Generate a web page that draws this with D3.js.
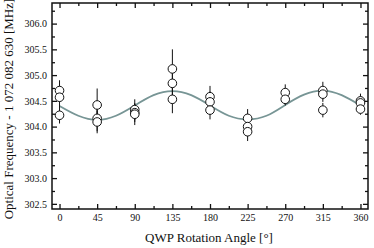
<!DOCTYPE html>
<html>
<head>
<meta charset="utf-8">
<script src="https://cdn.jsdelivr.net/npm/d3@7"></script>
<style>
  body { margin: 0; background: #fff; }
  svg text { font-family: "Liberation Serif", "Times New Roman", serif; fill: #111; }
</style>
</head>
<body>
<div id="chart"></div>
<script>
// measured points: angle, frequency offset, uncertainty
const angles  = [0, 0, 0, 45, 45, 45, 90, 90, 90, 135, 135, 135, 180, 180, 180,
                 225, 225, 225, 270, 270, 315, 315, 315, 360, 360, 360];
const freq    = [304.70, 304.57, 304.22, 304.42, 304.16, 304.09, 304.33, 304.27, 304.24,
                 305.12, 304.84, 304.53, 304.58, 304.48, 304.32, 304.16, 304.00, 303.90,
                 304.66, 304.53, 304.70, 304.63, 304.32, 304.50, 304.46, 304.34];
const freqErr = [0.20, 0.20, 0.16, 0.32, 0.25, 0.22, 0.20, 0.18, 0.21,
                 0.38, 0.30, 0.27, 0.21, 0.20, 0.18, 0.18, 0.17, 0.18,
                 0.16, 0.12, 0.17, 0.15, 0.14, 0.14, 0.12, 0.11];

// fitted curve, every 22.5 deg
const fitAngles = [0, 22.5, 45, 67.5, 90, 112.5, 135, 157.5, 180,
                   202.5, 225, 247.5, 270, 292.5, 315, 337.5, 360];
const fitFreq   = [304.40, 304.21, 304.13, 304.21, 304.41, 304.61, 304.69, 304.61, 304.41,
                   304.21, 304.14, 304.21, 304.42, 304.62, 304.70, 304.61, 304.41];

const xTicks = [0, 45, 90, 135, 180, 225, 270, 315, 360];
const yTicks = [302.5, 303.0, 303.5, 304.0, 304.5, 305.0, 305.5, 306.0];

const margin = { top: 3, right: 6, bottom: 39, left: 52 },
  width = 374 - margin.left - margin.right,
  height = 248 - margin.top - margin.bottom;

const svg = d3.select("#chart")
  .append("svg")
  .attr("width", 374)
  .attr("height", 248);

const g = svg.append("g")
  .attr("transform", `translate(${margin.left}, ${margin.top})`);

const x = d3.scaleLinear().domain([-9, 369]).range([0, width]);
const y = d3.scaleLinear().domain([302.4, 306.4]).range([height, 0]);

// minor tick values
const xMinor = d3.range(0, 361, 22.5).filter(v => !xTicks.includes(v));
const yMinor = d3.range(302.5, 306.3, 0.25).filter(v => Math.abs((v * 2) % 1) > 0.01);

function tickAxis(axisFn, scale, values, size, labels) {
  return axisFn(scale).tickValues(values).tickSizeInner(-size).tickSizeOuter(0)
    .tickPadding(labels ? 5 : 0)
    .tickFormat(labels ? labels : "");
}

// bottom / left with labels, top / right ticks only, all pointing inward
const axes = [
  { fn: d3.axisBottom, s: x, t: `translate(0,${height})`, major: xTicks, minor: xMinor, fmt: d3.format("d") },
  { fn: d3.axisTop, s: x, t: "translate(0,0)", major: xTicks, minor: xMinor, fmt: null },
  { fn: d3.axisLeft, s: y, t: "translate(0,0)", major: yTicks, minor: yMinor, fmt: d3.format(".1f") },
  { fn: d3.axisRight, s: y, t: `translate(${width},0)`, major: yTicks, minor: yMinor, fmt: null }
];

axes.forEach(a => {
  const major = g.append("g").attr("transform", a.t)
    .call(tickAxis(a.fn, a.s, a.major, 5, a.fmt));
  const minor = g.append("g").attr("transform", a.t)
    .call(tickAxis(a.fn, a.s, a.minor, 3, null));
  [major, minor].forEach(sel => {
    sel.select(".domain").remove();
    sel.selectAll("line").attr("stroke", "#111").attr("stroke-width", 1.3);
    sel.selectAll("text").attr("font-size", "10px")
      .attr("font-family", "Liberation Serif").attr("fill", "#111");
  });
});

// frame
g.append("rect")
  .attr("width", width)
  .attr("height", height)
  .attr("fill", "none")
  .attr("stroke", "#111")
  .attr("stroke-width", 1.5);

// fit curve
const line = d3.line()
  .x((d, i) => x(fitAngles[i]))
  .y(d => y(d))
  .curve(d3.curveNatural);

g.append("path")
  .datum(fitFreq)
  .attr("fill", "none")
  .attr("stroke", "#779595")
  .attr("stroke-width", 1.8)
  .attr("d", line);

const points = angles.map((a, i) => ({ a: a, f: freq[i], e: freqErr[i] }));

// error bars
g.selectAll(".err")
  .data(points)
  .enter()
  .append("line")
  .attr("class", "err")
  .attr("x1", d => x(d.a))
  .attr("x2", d => x(d.a))
  .attr("y1", d => y(d.f + d.e))
  .attr("y2", d => y(d.f - d.e))
  .attr("stroke", "#111")
  .attr("stroke-width", 1);

// points
g.selectAll(".pt")
  .data(points)
  .enter()
  .append("circle")
  .attr("class", "pt")
  .attr("cx", d => x(d.a))
  .attr("cy", d => y(d.f))
  .attr("r", 4.3)
  .attr("fill", "#fff")
  .attr("stroke", "#111")
  .attr("stroke-width", 1);

// axis titles
svg.append("text")
  .attr("x", margin.left + width / 2 - 1)
  .attr("y", 242)
  .attr("text-anchor", "middle")
  .attr("font-size", "13px")
  .text("QWP Rotation Angle [°]");

svg.append("text")
  .attr("transform", `translate(13, ${margin.top + height / 2 + 3}) rotate(-90)`)
  .attr("text-anchor", "middle")
  .attr("font-size", "13px")
  .text("Optical Frequency - 1 072 082 630 [MHz]");
</script>
</body>
</html>
